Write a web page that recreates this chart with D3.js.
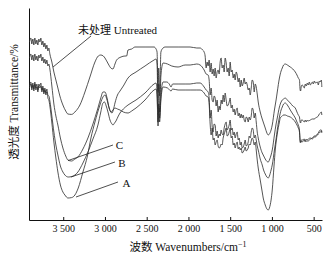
<!DOCTYPE html>
<html lang="zh">
<head>
<meta charset="UTF-8">
<title>FTIR spectra</title>
<script src="https://d3js.org/d3.v7.min.js"></script>
<style>
  body { margin: 0; background: #fff; }
  svg text { font-family: "Liberation Serif", "Noto Sans CJK SC", serif; fill: #111; }
  .axis path, .axis line { stroke: #111; }
  .curve { fill: none; stroke: #2a2a2a; stroke-width: 0.8; }
</style>
</head>
<body>
<div id="chart"></div>
<script>
// spectra as [wavenumber cm-1, transmittance %]
const untreated = [[3905,89],[3888,91],[3876,88],[3864,90.5],[3852,87.5],[3840,91],[3828,88],[3816,90],[3804,87.5],[3792,90.5],[3780,89],[3768,91],[3756,87.5],[3744,89.5],[3732,86.5],[3720,88.5],[3708,85.5],[3696,87.5],[3684,84.5],[3672,86],[3660,83],[3636,79],[3612,74],[3588,70],[3564,66],[3540,62],[3504,57.5],[3470,54.5],[3444,53],[3400,52.8],[3360,54],[3300,57.5],[3240,64],[3180,71.5],[3120,79],[3080,82],[3050,82.5],[3020,82],[3000,81],[2960,78],[2930,76],[2904,75.5],[2880,78],[2860,80],[2808,81.5],[2760,82],[2740,82],[2724,85],[2680,85.5],[2640,86.5],[2520,86.5],[2412,86.5],[2388,85.5],[2376,84],[2364,64],[2356,76],[2345,62],[2330,84],[2304,86],[2280,86.5],[2124,86.5],[1980,86.5],[1900,86],[1860,86],[1830,85],[1812,84],[1800,82],[1788,76],[1776,79],[1764,77],[1752,80],[1740,74],[1728,78.5],[1716,73],[1704,75.5],[1692,72],[1680,76],[1668,71],[1656,74],[1644,75],[1632,73],[1620,79],[1608,81],[1596,76],[1584,77.5],[1572,74],[1560,81],[1548,78.5],[1536,74],[1524,76],[1512,72],[1500,79],[1488,74],[1476,75],[1464,71],[1452,73],[1440,70],[1428,74],[1416,72.5],[1404,69],[1392,71],[1380,66.5],[1368,70],[1356,67],[1344,68.5],[1332,71],[1320,68],[1308,69],[1296,67.5],[1284,65],[1272,66],[1260,62.5],[1248,66],[1236,70],[1224,69],[1212,64],[1200,68],[1188,66.5],[1176,63],[1164,59],[1140,54],[1120,51],[1104,49],[1080,46],[1060,43.5],[1044,42.5],[1030,43],[1010,45],[996,47.5],[970,55],[950,60],[936,64],[910,71],[890,74.5],[876,76],[860,77.5],[840,78],[815,77.5],[780,76.5],[750,75.5],[720,74],[700,72.5],[684,71],[670,70],[662,65],[656,64.5],[648,67],[636,67.5],[612,66],[600,68],[588,67],[576,68.5],[564,67.5],[552,69],[540,67.5],[516,69],[504,68],[492,69.5],[480,68.5],[456,69],[444,67.5],[432,69.5],[420,69],[408,70],[402,66.5]];

const sampleC = [[3905,81],[3888,83],[3876,80],[3864,82.5],[3852,79.5],[3840,83],[3828,80],[3816,82],[3804,79.5],[3792,82.5],[3780,81],[3768,83],[3756,79.5],[3744,81.5],[3732,78.5],[3720,80.5],[3708,78],[3696,80],[3684,77],[3672,78],[3660,75.5],[3636,67],[3612,58],[3588,52],[3564,47.5],[3534,41],[3504,36],[3470,32],[3444,30],[3400,29.5],[3360,30.5],[3324,31.5],[3264,35.5],[3204,41],[3144,48],[3084,56],[3050,61],[3024,64],[3000,64],[2975,61],[2950,56],[2930,54],[2916,53.5],[2900,55],[2880,58.5],[2850,62.5],[2820,64.5],[2780,67],[2724,71],[2628,74],[2520,77],[2412,80],[2388,80.5],[2376,78],[2364,56],[2356,68],[2345,54],[2330,72],[2304,78.5],[2250,78],[2200,77],[2124,76.5],[2040,77.5],[1980,77.5],[1900,78],[1860,77.5],[1812,75],[1788,73],[1764,72.5],[1752,70],[1740,62.5],[1728,66],[1716,60],[1704,59],[1692,62],[1680,61],[1668,57],[1656,60],[1644,54],[1632,57],[1620,55],[1608,60],[1596,58],[1584,62.5],[1572,59],[1560,63.5],[1548,60],[1536,57],[1524,57.5],[1512,59],[1500,61],[1488,56],[1476,57.5],[1464,54],[1452,55.5],[1440,52.5],[1428,55],[1416,56],[1404,52],[1392,53.5],[1380,51],[1368,53],[1356,51],[1344,52.5],[1332,50],[1320,49],[1308,51.5],[1296,51],[1284,49],[1272,51.5],[1260,50],[1248,52],[1236,56],[1224,55],[1212,51],[1200,53.5],[1188,49],[1176,44],[1164,41],[1140,36.5],[1116,33.5],[1104,32.5],[1080,30.5],[1060,29.3],[1044,29],[1030,30],[1010,32.5],[996,35],[970,42.5],[950,48],[936,51],[910,56.5],[890,59],[876,60],[860,60.5],[840,61],[815,60],[780,58.5],[750,57],[720,56],[700,54],[684,52.5],[670,51.5],[662,49],[656,48.5],[648,50],[636,50],[612,49],[600,50],[588,49],[576,50],[564,49.5],[540,50],[516,50.5],[492,50.5],[480,51],[456,51.5],[444,52],[432,53],[420,53.5],[408,54],[402,52.5]];

const sampleB = [[3905,67],[3888,69],[3876,66],[3864,68.5],[3852,65.5],[3840,69],[3828,66],[3816,68],[3804,65],[3792,68],[3780,67],[3768,68.5],[3756,65],[3744,67],[3732,64],[3720,66],[3708,63.5],[3696,65.5],[3684,62.5],[3672,62],[3660,59.5],[3636,52],[3612,44],[3588,37.5],[3564,32.5],[3534,27],[3504,24],[3480,22.5],[3440,21.5],[3400,21.7],[3360,22.5],[3324,24],[3264,28.5],[3204,34],[3144,40.5],[3084,47.5],[3050,54],[3024,58.5],[3005,59],[2985,57],[2964,54],[2940,50],[2916,48],[2904,47.5],[2885,48.5],[2868,49.5],[2840,52],[2820,53.5],[2780,55.5],[2724,57.5],[2628,60],[2520,63.5],[2412,68],[2388,68.5],[2376,64],[2364,49],[2356,58],[2345,51],[2330,62],[2304,69],[2260,69],[2230,68],[2208,66.5],[2190,68],[2124,68],[2040,68],[1980,68],[1900,68.5],[1860,68.5],[1812,66.5],[1788,65],[1764,64],[1752,61],[1740,51],[1728,55],[1716,47],[1704,44],[1692,48],[1680,47.5],[1668,42],[1656,44.5],[1644,41],[1632,43],[1620,42],[1608,45],[1596,43],[1584,42.5],[1572,46],[1560,48],[1548,49],[1536,45],[1524,46],[1512,47.5],[1500,50],[1488,45],[1476,46],[1464,42.5],[1452,44],[1440,41],[1428,43],[1416,44],[1404,40],[1392,41],[1380,37.5],[1368,39],[1356,36],[1344,36.5],[1332,38],[1320,40],[1308,37],[1296,37.5],[1284,39],[1272,42],[1260,41],[1248,44],[1236,46],[1224,45],[1212,41],[1200,42.5],[1188,40],[1176,37],[1164,35],[1140,30.5],[1116,27.5],[1100,25],[1080,23],[1060,21.5],[1044,21],[1030,22],[1010,25],[996,27.5],[970,35],[950,40.5],[936,45],[910,51.5],[890,55],[876,56.5],[860,58],[840,58.5],[815,57.5],[780,55],[750,53],[720,51],[700,49],[684,47.5],[670,45],[662,40],[656,39],[648,40],[636,40],[612,40.5],[600,39.5],[588,40.5],[576,40],[564,40.5],[540,41],[516,40.5],[492,41.5],[480,41.5],[456,42.5],[444,43],[432,43.5],[420,44],[408,44.5],[402,43.5]];

const sampleA = [[3905,66],[3888,68],[3876,65],[3864,67.5],[3852,64.5],[3840,68],[3828,65],[3816,66.5],[3804,64],[3792,67],[3780,66],[3768,67],[3756,64],[3744,66],[3732,63],[3720,65],[3708,62.5],[3696,64],[3684,61],[3672,60],[3660,57],[3636,48.5],[3612,39],[3588,31],[3564,24],[3534,17.5],[3504,14],[3480,12.5],[3444,11],[3400,11.2],[3360,12.5],[3320,16],[3264,24],[3210,32],[3168,41],[3120,49],[3060,57.5],[3030,61],[3000,62.5],[2975,60],[2950,56],[2928,54],[2905,55],[2880,56],[2850,55.5],[2820,55],[2780,54],[2724,53.5],[2680,54.5],[2628,56],[2520,60],[2412,65],[2388,65.5],[2376,62],[2364,47],[2356,56],[2345,49],[2330,60],[2304,66.5],[2250,66],[2208,64.5],[2190,65.5],[2124,65],[2040,65],[1980,65],[1900,65],[1860,65],[1812,63.5],[1788,62],[1764,61.5],[1752,58],[1740,48],[1728,42.5],[1716,46],[1704,40],[1692,41],[1680,37.5],[1668,39],[1656,40],[1644,37],[1632,36],[1620,36.5],[1608,38],[1596,37.5],[1584,41],[1572,43],[1560,44.5],[1548,46],[1536,42],[1524,42.5],[1512,44],[1500,46],[1488,41],[1476,42],[1464,37.5],[1452,38.5],[1440,36],[1428,38],[1416,39],[1404,35.5],[1392,36.5],[1380,35],[1368,36],[1356,33.5],[1344,34],[1332,35],[1320,36.5],[1308,34.5],[1296,35],[1284,36],[1272,38],[1260,37.5],[1248,39.5],[1236,41],[1224,40],[1212,37.5],[1200,39],[1188,35],[1176,30],[1164,26],[1140,20],[1116,14],[1104,11],[1080,7.5],[1060,5.5],[1044,5],[1030,6],[1010,10],[996,15],[975,27],[960,35],[936,43],[910,49],[900,51],[876,52],[860,52.5],[840,52.5],[815,52],[780,51.5],[750,50.5],[720,49],[700,47.5],[684,46],[670,44],[662,39],[656,38.5],[648,39.5],[636,39],[612,40],[600,39],[588,39.5],[576,39.5],[564,39.5],[540,40.5],[516,41],[492,42],[480,42],[456,43],[444,43.5],[432,44.5],[420,45],[408,45],[402,44]];

const xTicks = [3500, 3000, 2500, 2000, 1500, 1000, 500];

// label text, leader line from (w1,t1) on the curve to (w2,t2), text anchor (tw,tt)
const labels = [
  { text: "未处理 Untreated", w1: 3622, t1: 76.5, w2: 3167, t2: 92, tw: 3323, tt: 93 },
  { text: "C", w1: 3443, t1: 29.7, w2: 2904, t2: 37.5, tw: 2870, tt: 35.5 },
  { text: "B", w1: 3407, t1: 21.5, w2: 2880, t2: 29, tw: 2840, tt: 26.5 },
  { text: "A", w1: 3347, t1: 11.5, w2: 2844, t2: 19, tw: 2790, tt: 16.5 }
];

const W = 335, H = 260;
const svg = d3.select("#chart").append("svg")
  .attr("width", W).attr("height", H);

const x = d3.scaleLinear().domain([3910, 400]).range([29, 322]);
const y = d3.scaleLinear().domain([0, 106]).range([220, 8]);

const fmt = d => d >= 1000 ? String(d).slice(0, 1) + " " + String(d).slice(1) : String(d);

svg.append("g")
  .attr("class", "axis")
  .attr("transform", "translate(0,220)")
  .call(d3.axisBottom(x).tickValues(xTicks).tickSize(-3).tickSizeOuter(0).tickPadding(5).tickFormat(fmt))
  .call(g => g.selectAll("text").attr("font-size", 10).attr("font-family", null));

svg.append("g")
  .attr("class", "axis")
  .attr("transform", "translate(29,0)")
  .call(d3.axisLeft(y).tickValues([]).tickSizeOuter(0));

const line = d3.line()
  .x(d => x(d[0]))
  .y(d => y(d[1]))
  .curve(d3.curveMonotoneX);

[untreated, sampleC, sampleB, sampleA].forEach(s => {
  svg.append("path").attr("class", "curve").attr("d", line(s));
});

labels.forEach(l => {
  svg.append("line")
    .attr("x1", x(l.w1)).attr("y1", y(l.t1))
    .attr("x2", x(l.w2)).attr("y2", y(l.t2))
    .attr("stroke", "#222").attr("stroke-width", 0.8);
  svg.append("text")
    .attr("x", x(l.tw)).attr("y", y(l.tt))
    .attr("font-size", 11)
    .text(l.text);
});

// axis titles
const xt = svg.append("text")
  .attr("x", 188).attr("y", 251)
  .attr("text-anchor", "middle")
  .attr("font-size", 11.5);
xt.append("tspan").text("波数 Wavenumbers/cm");
xt.append("tspan").attr("dy", -4).attr("font-size", 8).text("−1");

svg.append("text")
  .attr("transform", "translate(18,102) rotate(-90)")
  .attr("text-anchor", "middle")
  .attr("font-size", 11.5)
  .text("透光度 Transmittance/%");
</script>
</body>
</html>
